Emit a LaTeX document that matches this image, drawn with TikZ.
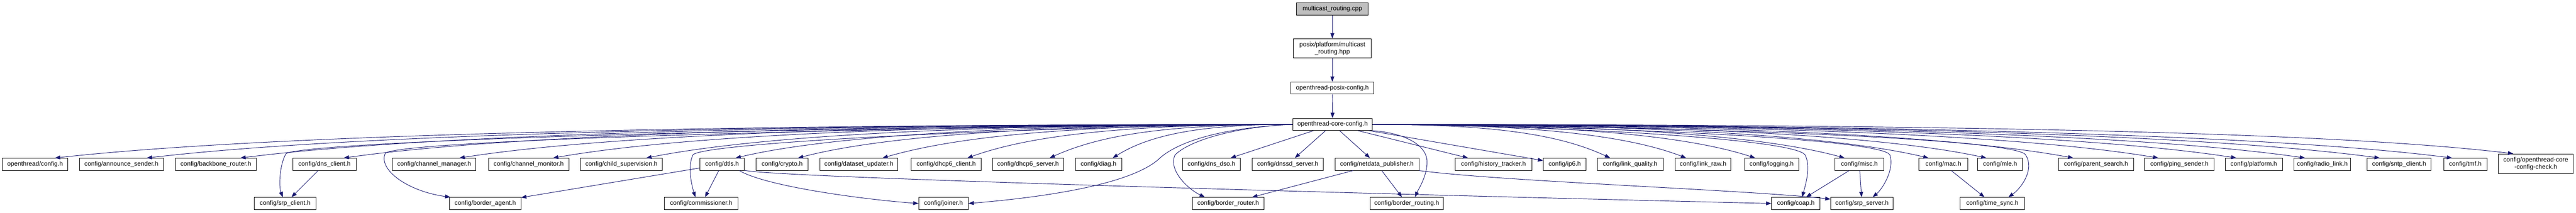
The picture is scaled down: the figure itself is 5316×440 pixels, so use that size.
\documentclass[tikz,border=0pt]{standalone}
\usepackage{fontspec}
\setmainfont{Liberation Sans}
\usetikzlibrary{arrows.meta,calc}
\definecolor{midnightblue}{HTML}{191970}
\tikzset{
	file/.style={draw=black,fill=white,line width=1pt,inner sep=0pt,minimum height=25pt,font=\fontsize{13}{15}\selectfont,align=center},
	root/.style={file,fill=gray!50},
	inc/.style={draw=midnightblue,line width=1pt,-{Triangle[length=11pt,width=8pt,fill=midnightblue]}},
}
\begin{document}
\begin{tikzpicture}[x=1pt,y=1pt]
	\path[fill=white,use as bounding box] (0,0) rectangle (5316,-440);
	\node[root,minimum width=147] (root) at (2749.5,-18.5) {multicast\_routing.cpp};
	\node[file,minimum width=161,minimum height=40] (mcrhpp) at (2749.5,-100) {posix/platform/multicast\\\_routing.hpp};
	\node[file,minimum width=171] (posixcfg) at (2749.5,-182) {openthread-posix-config.h};
	\node[file,minimum width=164] (core) at (2750,-257) {openthread-core-config.h};
	\node[file,minimum width=135] (otcfg) at (72.5,-339.5) {openthread/config.h};
	\node[file,minimum width=173] (announce) at (250.5,-339.5) {config/announce\_sender.h};
	\node[file,minimum width=167] (bbr) at (445.5,-339.5) {config/backbone\_router.h};
	\node[file,minimum width=131] (dnsclient) at (669.5,-339.5) {config/dns\_client.h};
	\node[file,minimum width=172] (chanmgr) at (896,-339.5) {config/channel\_manager.h};
	\node[file,minimum width=166] (chanmon) at (1091,-339.5) {config/channel\_monitor.h};
	\node[file,minimum width=169] (childsup) at (1282.5,-339.5) {config/child\_supervision.h};
	\node[file,minimum width=92] (dtls) at (1490,-339.5) {config/dtls.h};
	\node[file,minimum width=108] (crypto) at (1614,-339.5) {config/crypto.h};
	\node[file,minimum width=161] (datasetupd) at (1772.5,-339.5) {config/dataset\_updater.h};
	\node[file,minimum width=145] (dhcpclient) at (1952.5,-339.5) {config/dhcp6\_client.h};
	\node[file,minimum width=147] (dhcpserver) at (2121.5,-339.5) {config/dhcp6\_server.h};
	\node[file,minimum width=96] (diag) at (2267,-339.5) {config/diag.h};
	\node[file,minimum width=120] (dnsdso) at (2500,-339.5) {config/dns\_dso.h};
	\node[file,minimum width=147] (dnssd) at (2657.5,-339.5) {config/dnssd\_server.h};
	\node[file,minimum width=173] (netdatapub) at (2841.5,-339.5) {config/netdata\_publisher.h};
	\node[file,minimum width=158] (history) at (3082,-339.5) {config/history\_tracker.h};
	\node[file,minimum width=88] (ip6) at (3229,-339.5) {config/ip6.h};
	\node[file,minimum width=136] (linkq) at (3364,-339.5) {config/link\_quality.h};
	\node[file,minimum width=115] (linkraw) at (3514.5,-339.5) {config/link\_raw.h};
	\node[file,minimum width=112] (logging) at (3656,-339.5) {config/logging.h};
	\node[file,minimum width=100] (misc) at (3837,-339.5) {config/misc.h};
	\node[file,minimum width=101] (mac) at (4010.5,-339.5) {config/mac.h};
	\node[file,minimum width=93] (mle) at (4127.5,-339.5) {config/mle.h};
	\node[file,minimum width=155] (parentsearch) at (4325.5,-339.5) {config/parent\_search.h};
	\node[file,minimum width=143] (ping) at (4497.5,-339.5) {config/ping\_sender.h};
	\node[file,minimum width=118] (platform) at (4651,-339.5) {config/platform.h};
	\node[file,minimum width=117] (radiolink) at (4792.5,-339.5) {config/radio\_link.h};
	\node[file,minimum width=132] (sntp) at (4951,-339.5) {config/sntp\_client.h};
	\node[file,minimum width=89] (tmf) at (5087.5,-339.5) {config/tmf.h};
	\node[file,minimum width=154,minimum height=41] (check) at (5233,-338.5) {config/openthread-core\\-config-check.h};
	\node[file,minimum width=127] (srpclient) at (588.5,-420.5) {config/srp\_client.h};
	\node[file,minimum width=147] (borderagent) at (1001.5,-420.5) {config/border\_agent.h};
	\node[file,minimum width=152] (commissioner) at (1447,-420.5) {config/commissioner.h};
	\node[file,minimum width=102] (joiner) at (1947,-420.5) {config/joiner.h};
	\node[file,minimum width=147] (borderrouter) at (2534.5,-420.5) {config/border\_router.h};
	\node[file,minimum width=152] (borderrouting) at (2903,-420.5) {config/border\_routing.h};
	\node[file,minimum width=100] (coap) at (3706,-420.5) {config/coap.h};
	\node[file,minimum width=129] (srpserver) at (3842.5,-420.5) {config/srp\_server.h};
	\node[file,minimum width=133] (timesync) at (4111.5,-420.5) {config/time\_sync.h};

	\draw[inc] (root) -- (mcrhpp);
	\draw[inc] (mcrhpp) -- (posixcfg);
	\draw[inc] (posixcfg) -- (core);
	\foreach \n in {otcfg,announce,bbr,dnsclient,chanmgr,chanmon,childsup,dtls,crypto,datasetupd,dhcpclient,dhcpserver,diag}
		\draw[inc] (core.west) .. controls ($(core.west)!.5!(\n.north |- core.west)$) and ($(\n.north east)!.15!(core.west |- \n.north east)+(0,45)$) .. ($(\n.north)!.6!(\n.north east)$);
	\foreach \n in {linkq,linkraw,logging,misc,mac,mle,parentsearch,ping,platform,radiolink,sntp,tmf,check}
		\draw[inc] (core.east) .. controls ($(core.east)!.5!(\n.north |- core.east)$) and ($(\n.north west)!.15!(core.east |- \n.north west)+(0,45)$) .. ($(\n.north)!.6!(\n.north west)$);
	\draw[inc] (core) -- (dnsdso);
	\draw[inc] (core) -- (dnssd);
	\draw[inc] (core) -- (netdatapub);
	\draw[inc] (core) -- (history);
	\draw[inc] (core) -- (ip6);

	\draw[inc] (core.west) .. controls (1500,-262) and (610,-295) .. (590,-318) .. controls (577,-340) and (575,-385) .. ($(srpclient.north)+(-5,0)$);
	\draw[inc] (core.west) .. controls (1800,-262) and (815,-290) .. (795,-317) .. controls (780,-350) and (840,-395) .. ($(borderagent.north west)+(2,0)$);
	\draw[inc] (core.west) .. controls (2100,-262) and (1450,-295) .. (1430,-320) .. controls (1418,-345) and (1428,-385) .. ($(commissioner.north)+(-12,0)$);
	\draw[inc] (core.west) .. controls (2500,-265) and (2420,-300) .. (2390,-330) .. controls (2320,-390) and (2100,-412) .. (joiner.east);
	\draw[inc] (core.west) .. controls (2550,-262) and (2455,-290) .. (2425,-320) .. controls (2410,-350) and (2450,-390) .. ($(borderrouter.north)+(-48,0)$);
	\draw[inc] (core.south east) .. controls (2900,-275) and (2945,-300) .. (2945,-335) .. controls (2945,-365) and (2925,-395) .. ($(borderrouting.north)+(17,0)$);
	\draw[inc] (core.east) .. controls (3300,-262) and (3705,-290) .. (3725,-320) .. controls (3738,-345) and (3725,-385) .. ($(coap.north)+(13,0)$);
	\draw[inc] (core.east) .. controls (3400,-262) and (3885,-290) .. (3900,-320) .. controls (3910,-350) and (3885,-390) .. ($(srpserver.north)+(22,0)$);
	\draw[inc] (core.east) .. controls (3600,-262) and (4165,-290) .. (4180,-320) .. controls (4200,-350) and (4170,-390) .. ($(timesync.north)+(33,0)$);

	\draw[inc] (dnsclient) -- (srpclient);
	\draw[inc] (dtls) -- (borderagent);
	\draw[inc] (dtls) -- ($(commissioner.north)+(8,0)$);
	\draw[inc] (dtls.-20) .. controls (1580,-385) and (1780,-412) .. (joiner.west);
	\draw[inc] (dtls.-15) .. controls (1600,-368) and (3000,-405) .. (coap.west);
	\draw[inc] (netdatapub) -- (borderrouter);
	\draw[inc] (netdatapub) -- (borderrouting);
	\draw[inc] (netdatapub.south east) .. controls (3100,-375) and (3600,-392) .. ($(srpserver.north west)+(0,-4)$);
	\draw[inc] (misc) -- (coap);
	\draw[inc] (misc) -- (srpserver);
	\draw[inc] (mac) -- (timesync);
\end{tikzpicture}
\end{document}
